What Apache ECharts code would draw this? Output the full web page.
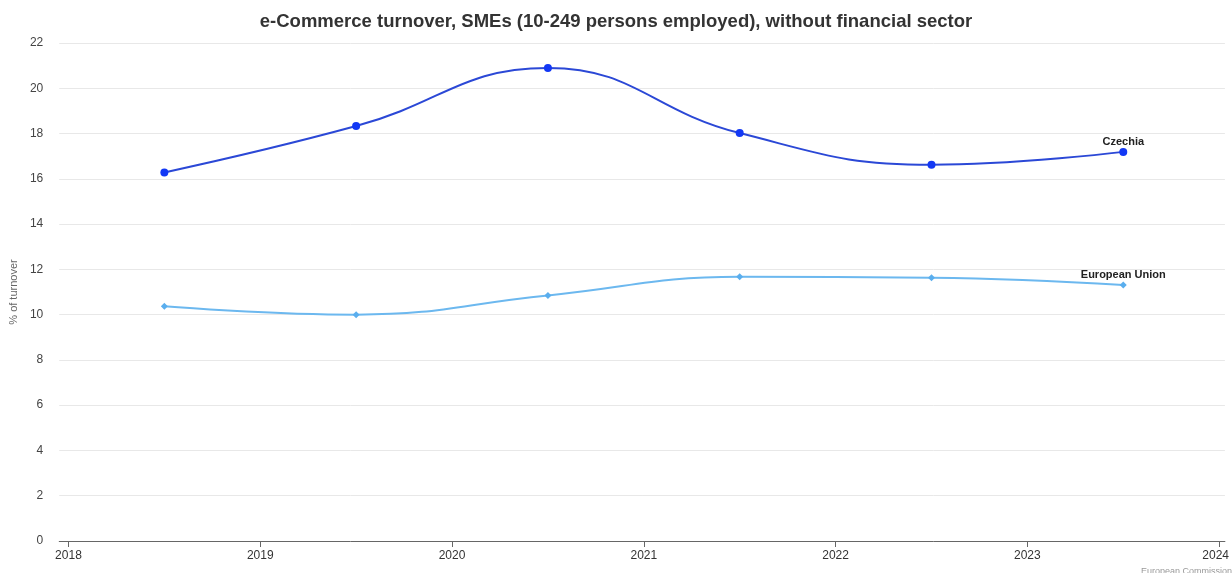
<!DOCTYPE html>
<html>
<head>
<meta charset="utf-8">
<script src="https://cdn.jsdelivr.net/npm/echarts@6/dist/echarts.min.js"></script>
<style>
html,body{margin:0;padding:0;background:#fff;}
#chart{width:1232px;height:573px;}
</style>
</head>
<body>
<div id="chart"></div>
<script>
const years = [2018.5, 2019.5, 2020.5, 2021.5, 2022.5, 2023.5];
const czechia = [16.28, 18.33, 20.9, 18.02, 16.62, 17.19];
const europeanUnion = [10.37, 10.0, 10.85, 11.67, 11.63, 11.31];
const xTicks = [2018, 2019, 2020, 2021, 2022, 2023, 2024];

function toData(vals, labelName, dist) {
  return vals.map((v, i) => {
    const item = { value: [years[i], v] };
    if (i === vals.length - 1) {
      item.label = {
        show: true, position: 'top', distance: dist,
        formatter: labelName, fontSize: 11, fontWeight: 'bold',
        color: '#222', fontFamily: 'Liberation Sans, Arial, sans-serif'
      };
    }
    return item;
  });
}

const chart = echarts.init(document.getElementById('chart'));
chart.setOption({
  animation: false,
  textStyle: { fontFamily: 'Liberation Sans, Arial, sans-serif' },
  title: {
    text: 'e-Commerce turnover, SMEs (10-249 persons employed), without financial sector',
    left: 'center', top: 7,
    textStyle: { fontSize: 18.5, fontWeight: 'bold', color: '#333' }
  },
  grid: { left: 58, right: 2, top: 43, bottom: 32, containLabel: false },
  xAxis: {
    type: 'value',
    min: 2017.952, max: 2024.03,
    axisLine: { show: true, lineStyle: { color: '#666', width: 1 } },
    axisTick: { show: true, customValues: xTicks, length: 6, lineStyle: { color: '#666' } },
    axisLabel: {
      customValues: xTicks, color: '#333', fontSize: 12, margin: 9,
      formatter: v => { const y = Math.round(v); return y === 2024 ? '{last|2024}' : String(y); },
      rich: { last: { fontSize: 12, color: '#333', padding: [0, 7, 0, 0] } }
    },
    splitLine: { show: false }
  },
  yAxis: {
    type: 'value', min: 0, max: 22, interval: 2,
    name: '% of turnover', nameLocation: 'middle', nameGap: 40,
    nameTextStyle: { color: '#666', fontSize: 11 },
    axisLine: { show: false }, axisTick: { show: false },
    axisLabel: { color: '#444', fontSize: 12, margin: 16 },
    splitLine: { lineStyle: { color: '#e8e8e8', width: 1 } }
  },
  series: [
    {
      name: 'Czechia', type: 'line', smooth: 0.45,
      data: toData(czechia, 'Czechia', 0),
      symbol: 'circle', symbolSize: 8,
      lineStyle: { color: '#2b48d6', width: 2 },
      itemStyle: { color: '#1238f5' }
    },
    {
      name: 'European Union', type: 'line', smooth: 0.45,
      data: toData(europeanUnion, 'European Union', 1),
      symbol: 'diamond', symbolSize: 7,
      lineStyle: { color: '#6cb8ef', width: 2 },
      itemStyle: { color: '#5aaeee' }
    }
  ],
  graphic: [
    {
      type: 'text', right: 0, bottom: -3,
      style: { text: 'European Commission', fontSize: 9, fill: '#999', fontFamily: 'Liberation Sans, Arial, sans-serif' }
    }
  ]
});
</script>
</body>
</html>
